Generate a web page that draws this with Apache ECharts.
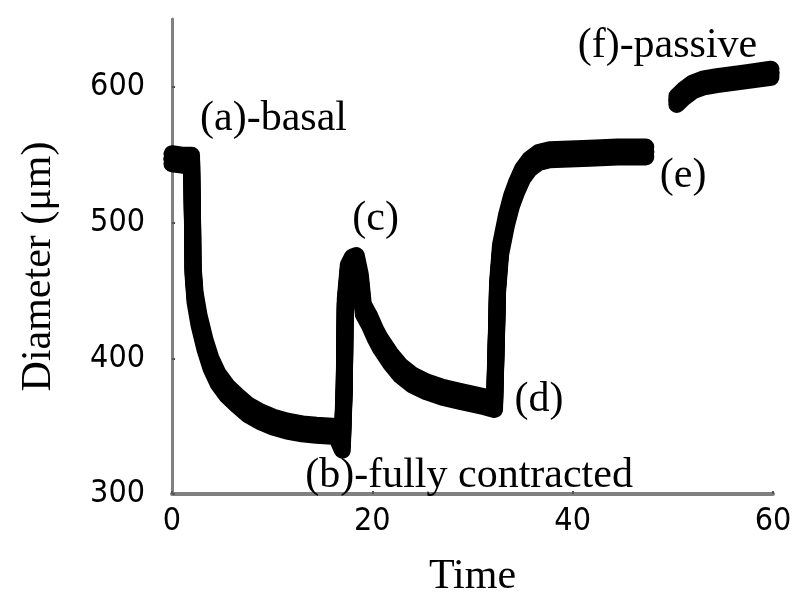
<!DOCTYPE html>
<html lang="en">
<head>
    <meta charset="UTF-8">
    <title>Diameter vs Time</title>
    <script src="https://cdn.jsdelivr.net/npm/echarts@6/dist/echarts.min.js"></script>
    <style>
        body { margin: 0; background: #fff; }
        #main { width: 800px; height: 614px; }
    </style>
</head>
<body>
    <div id="main"></div>

    <script>
        // trace: [time, diameter µm]
        var contraction = [
            [0, 547], [1.0, 546], [1.95, 546], [2.05, 500], [2.1, 465], [2.3, 445],
            [2.7, 428], [3.3, 410], [3.9, 396], [4.6, 385], [5.5, 376], [6.5, 369],
            [7.6, 362], [8.8, 357], [10.1, 353], [11.5, 350], [13.0, 348], [14.4, 347],
            [16.4, 346], [17.0, 336], [17.2, 380], [17.3, 440], [17.6, 465], [18.0, 471],
            [18.4, 472], [18.8, 458], [19.1, 436], [19.7, 428], [20.3, 418], [20.8, 411],
            [21.8, 400], [22.8, 391], [24.0, 384], [25.4, 379], [27.0, 375], [28.7, 372],
            [31.2, 368], [32.2, 366], [32.4, 420], [32.5, 452], [32.8, 480], [33.4, 502],
            [33.9, 516], [34.4, 526], [35.0, 536], [35.7, 543], [36.6, 548], [37.7, 550],
            [41.7, 551], [44.5, 552], [47.3, 552]
        ];
        var passive = [
            [50.4, 590], [51.1, 595], [52.0, 600], [53.1, 603], [54.4, 604.6],
            [57.4, 607.5], [59.8, 610]
        ];

        var yTicks = [300, 400, 500, 600];
        var xTicks = [0, 20, 40, 60];

        // annotation text and where it sits (data coords, left-middle of the text)
        var notes = [
            ['(a)-basal', 2.8, 576],
            ['(b)-fully contracted', 13.3, 313],
            ['(c)', 18.0, 503],
            ['(d)', 34.2, 369],
            ['(e)', 48.7, 534],
            ['(f)-passive', 40.5, 630]
        ];

        var tickFont = "'DejaVu Sans Condensed', 'Liberation Sans', sans-serif";

        var chart = echarts.init(document.getElementById('main'));

        // the recorded trace is noisy, so it reads as a band taller than it is wide:
        // each segment is stroked twice with a hard shadow above / below
        function trace(name, data, dy) {
            return {
                name: name,
                type: 'line',
                data: data,
                showSymbol: false,
                symbol: 'none',
                clip: false,
                lineStyle: {
                    color: '#000', width: 17, cap: 'round', join: 'round',
                    shadowColor: '#000', shadowBlur: 0, shadowOffsetY: dy
                },
                animation: false
            };
        }

        var option = {
            animation: false,
            grid: { left: 172, right: 27, top: 19, bottom: 120 },
            xAxis: {
                type: 'value',
                min: 0, max: 60, interval: 20,
                name: 'Time',
                nameLocation: 'middle',
                nameGap: 62,
                nameTextStyle: { fontFamily: 'Liberation Serif', fontSize: 42, color: '#000' },
                axisLine: { lineStyle: { color: '#808080', width: 4 } },
                axisTick: { show: true, inside: true, length: 3, lineStyle: { color: '#555', width: 2 } },
                axisLabel: {
                    margin: 12,
                    fontFamily: tickFont, fontSize: 32, color: '#000',
                    formatter: function (v) { return xTicks.indexOf(v) >= 0 ? String(v) : ''; }
                },
                splitLine: { show: false }
            },
            yAxis: {
                type: 'value',
                min: 300, max: 650, interval: 100,
                name: 'Diameter (μm)',
                nameLocation: 'middle',
                nameGap: 112,
                nameTextStyle: {
                    fontFamily: 'Liberation Serif', fontSize: 42, color: '#000',
                    padding: [0, 20, 0, 0]
                },
                axisLine: { show: true, lineStyle: { color: '#808080', width: 3 } },
                axisTick: { show: true, inside: true, length: 3, lineStyle: { color: '#555', width: 2 } },
                axisLabel: {
                    margin: 27,
                    showMaxLabel: false,
                    fontFamily: tickFont, fontSize: 32, color: '#000',
                    formatter: function (v) { return yTicks.indexOf(v) >= 0 ? String(v) : ''; }
                },
                splitLine: { show: false }
            },
            series: [
                trace('contraction', contraction, -5),
                trace('contraction', contraction, 5),
                trace('passive', passive, -4),
                trace('passive', passive, 4),
                {
                    name: 'notes',
                    type: 'scatter',
                    symbolSize: 0,
                    silent: true,
                    itemStyle: { opacity: 1 },
                    data: notes.map(function (n) { return { name: n[0], value: [n[1], n[2]] }; }),
                    label: {
                        show: true,
                        position: 'right',
                        distance: 0,
                        formatter: '{b}',
                        fontFamily: 'Liberation Serif',
                        fontSize: 42,
                        color: '#000',
                        opacity: 1
                    }
                }
            ]
        };

        chart.setOption(option);
    </script>
</body>
</html>
